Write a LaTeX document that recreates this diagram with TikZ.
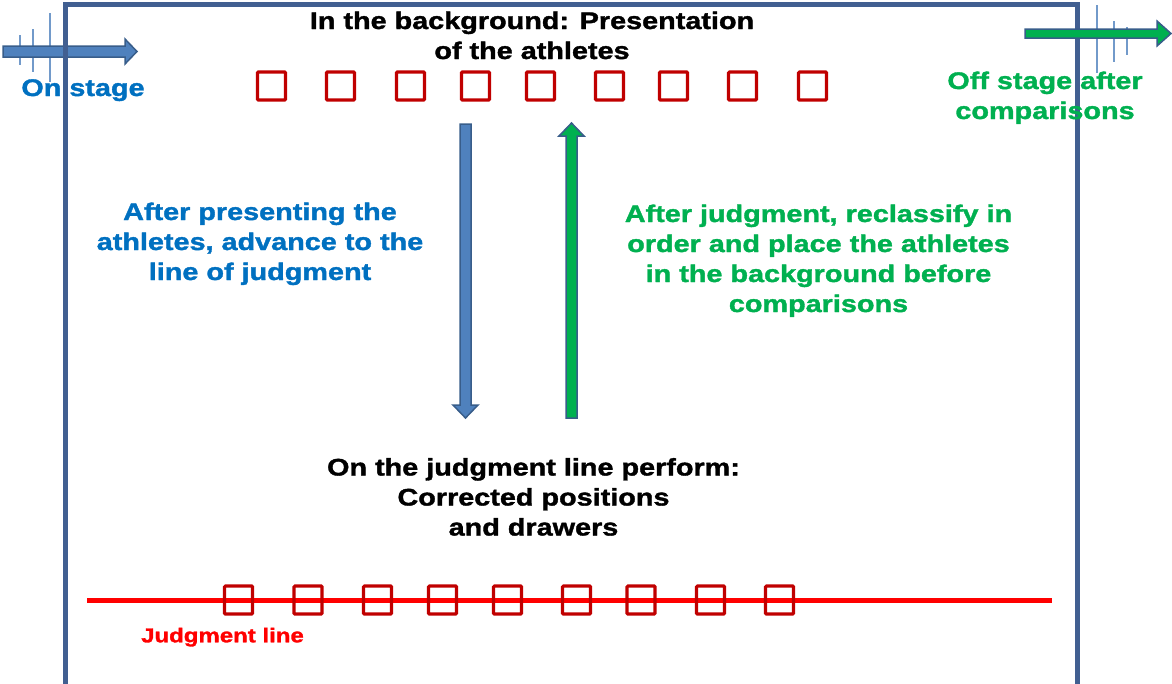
\documentclass[tikz,border=0pt]{standalone}
\usepackage{fontspec}
\newfontfamily\bft{Liberation Sans Bold}[FakeStretch=1.2, FakeBold=1.5]
\definecolor{framec}{RGB}{65,95,145}
\definecolor{arrblue}{RGB}{79,129,189}
\definecolor{arrborder}{RGB}{56,93,138}
\definecolor{txtblue}{RGB}{0,112,192}
\definecolor{txtgreen}{RGB}{0,176,80}
\definecolor{boxred}{RGB}{192,0,0}
\definecolor{linered}{RGB}{255,0,0}
\newcommand\vblockarrow[7]{% fill, x, ytail, yheadbase, ytip, halfshaft, halfhead
  \fill[#1, draw=arrborder, line width=1.5pt, line join=miter]
    ({#2-#6},#3) -- ({#2-#6},#4) -- ({#2-#7},#4) -- (#2,#5) -- ({#2+#7},#4)
    -- ({#2+#6},#4) -- ({#2+#6},#3) -- cycle;}
\newcommand\hblockarrow[7]{% fill, y, xtail, xheadbase, xtip, halfshaft, halfhead
  \fill[#1, draw=arrborder, line width=1.5pt, line join=miter]
    (#3,{#2-#6}) -- (#4,{#2-#6}) -- (#4,{#2-#7}) -- (#5,#2) -- (#4,{#2+#7})
    -- (#4,{#2+#6}) -- (#3,{#2+#6}) -- cycle;}
\tikzset{
  athlete/.style={draw=boxred, line width=3.2pt, minimum width=28pt, minimum height=28pt,
    inner sep=0pt, rounded corners=1pt},
  label/.style={font=\bft\fontsize{24}{30}\selectfont, align=center, inner sep=0pt},
  tick/.style={draw=arrblue!80, line width=1.5pt},
}
\begin{document}
\begin{tikzpicture}[x=1pt,y=-1pt]
\useasboundingbox (0,0) rectangle (1172,683);
\begin{scope}
\clip (0,0) rectangle (1172,683);
% left thin lines
\draw[tick] (20,35) -- (20,65);
\draw[tick] (33,29) -- (33,72);
\draw[tick] (50,13) -- (50,82);
% right thin lines
\draw[tick] (1097,5) -- (1097,73);
\draw[tick] (1114,21) -- (1114,62);
\draw[tick] (1127,27) -- (1127,55);
% on stage arrow
\hblockarrow{arrblue}{51.5}{3}{125}{137}{5.5}{12.5}
% frame
\draw[framec, line width=5pt, line join=miter] (65.5,700) -- (65.5,4.5) -- (1077,4.5) -- (1077,700);
% off stage arrow
\hblockarrow{txtgreen}{33.5}{1025}{1157}{1171}{4.5}{12.5}
\end{scope}
% vertical arrows
\vblockarrow{arrblue}{465.5}{124}{405}{418}{5.5}{12.5}
\vblockarrow{txtgreen}{571.5}{418}{136}{123}{5.5}{12.5}
% judgment line
\coordinate (jl1) at (87,600.5);
\coordinate (jl2) at (1052,600.5);
\draw[linered, line width=5pt] (jl1) -- (jl2);
% top athletes
\foreach \x [count=\i] in {271.5,340.5,410.5,475.5,540.5,609.5,673.5,742.5,812.5}
  \node[athlete] (t\i) at (\x,86) {};
% bottom athletes
\foreach \x [count=\i] in {238.5,308,377.5,442.5,507.5,576.5,641,710.5,779.5}
  \node[athlete] (b\i) at (\x,600) {};
% texts
\node[label] (title) at (532,38) {\strut In the background: Presentation\\\strut of the athletes};
\node[label, text=txtblue] (onstage) at (83,90) {\strut On stage};
\node[label, text=txtgreen] (offstage) at (1045,98) {\strut Off stage after\\\strut comparisons};
\node[label, text=txtblue] (advance) at (260,244) {\strut After presenting the\\athletes, advance to the\\\strut line of judgment};
\node[label, text=txtgreen] (reclass) at (818.5,261) {\strut After judgment, reclassify in\\order and place the athletes\\in the background before\\\strut comparisons};
\node[label] (perform) at (533.5,499.5) {\strut On the judgment line perform:\\Corrected positions\\\strut and drawers};
\node[label, text=linered, font=\bft\fontsize{20}{24}\selectfont] (jltext) at (222.5,637.5) {\strut Judgment line};
\end{tikzpicture}
\end{document}
